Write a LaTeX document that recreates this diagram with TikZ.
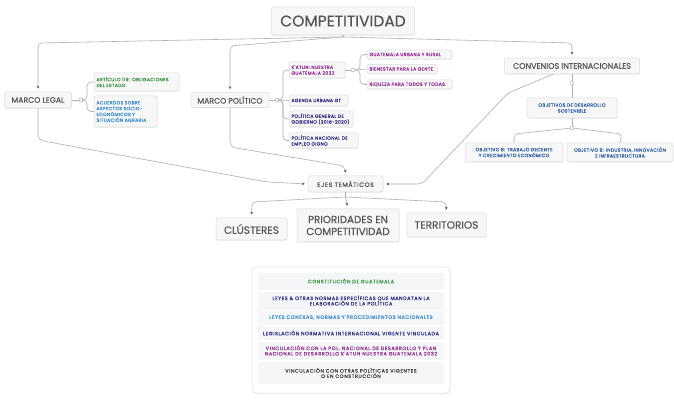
\documentclass[tikz,border=0pt]{standalone}
\usepackage{fontspec}
\setmainfont{Poppins}[FakeBold=0.4]
\newfontfamily\smallf{Poppins}[FakeBold=0.6, LetterSpace=7]
\newfontfamily\rowf{Poppins}[FakeBold=0.5, LetterSpace=12]
\newfontfamily\ejesf{Poppins}[FakeBold=0.4, LetterSpace=10]
\usetikzlibrary{arrows.meta,shadows}
\definecolor{txtgray}{RGB}{85,85,85}
\definecolor{lnk}{RGB}{175,175,175}
\definecolor{bfill}{RGB}{247,247,247}
\definecolor{bdraw}{RGB}{220,220,220}
\definecolor{cgreen}{RGB}{60,150,70}
\definecolor{cblue}{RGB}{60,140,205}
\definecolor{cpurple}{RGB}{150,45,150}
\definecolor{cnavy}{RGB}{45,45,130}
\definecolor{cods}{RGB}{45,95,165}
\definecolor{rowfill}{RGB}{245,246,247}
\tikzset{
 box/.style={draw=bdraw, fill=bfill, rounded corners=2pt, line width=0.5pt,
   drop shadow={shadow xshift=0.4pt, shadow yshift=-0.8pt, opacity=0.12}},
 mainbox/.style={box, text=txtgray, inner sep=0pt, align=center},
 smallbox/.style={box, inner xsep=2.5pt, inner ysep=0pt, align=left,
   font=\smallf\fontsize{4.6}{5.8}\selectfont},
 cbox/.style={box, inner sep=0pt, align=center, font=\smallf\fontsize{4.6}{5.8}\selectfont},
 conn/.style={draw=lnk, line width=0.6pt},
 arr/.style={-{Stealth[length=3pt,width=2.8pt,color=black!65]}, shorten >=3pt},
 dotc/.style={circle, draw=lnk, fill=white, inner sep=0pt, minimum size=4pt, line width=0.5pt},
 row/.style={fill=rowfill, draw=none, minimum width=186pt, inner sep=0pt, align=center,
   font=\rowf\fontsize{4.9}{5.4}\selectfont},
}
\begin{document}
\begin{tikzpicture}[x=1pt,y=-1pt]
\useasboundingbox (0,0) rectangle (674,403);
\fill[white] (0,0) rectangle (674,403);

% main nodes
\node[mainbox, minimum width=143pt, minimum height=28pt, font=\fontsize{15.5}{16}\selectfont] (comp) at (343,21) {COMPETITIVIDAD};
\node[mainbox, minimum width=67pt, minimum height=16pt, font=\fontsize{7.8}{8}\selectfont] (legal) at (38,100) {MARCO LEGAL};
\node[mainbox, minimum width=78pt, minimum height=15pt, font=\fontsize{7.8}{8}\selectfont] (poli) at (230,100) {MARCO POLÍTICO};
\node[mainbox, minimum width=135pt, minimum height=16pt, font=\fontsize{8}{8}\selectfont] (conv) at (572,66) {CONVENIOS INTERNACIONALES};
\node[mainbox, minimum width=75pt, minimum height=16pt, font=\ejesf\fontsize{6.2}{7}\selectfont] (ejes) at (345.5,184) {EJES TEMÁTICOS};
\node[mainbox, minimum width=71pt, minimum height=22pt, font=\fontsize{10.5}{11}\selectfont] (clus) at (251.5,229) {CLÚSTERES};
\node[mainbox, minimum width=102pt, minimum height=33pt, font=\fontsize{10.3}{12}\selectfont] (prio) at (348,225.5) {PRIORIDADES EN\\COMPETITIVIDAD};
\node[mainbox, minimum width=79pt, minimum height=24pt, font=\fontsize{10.5}{11}\selectfont] (terr) at (446.5,225) {TERRITORIOS};

% marco legal children
\node[smallbox, text=cgreen, text width=80pt, minimum height=18pt] (art) at (136.5,82) {ARTÍCULO 119: OBLIGACIONES\\DEL ESTADO};
\node[smallbox, text=cblue, text width=58pt, minimum height=31pt] (acu) at (125.5,111.5) {ACUERDOS SOBRE\\ASPECTOS SOCIO-\\ECONÓMICOS Y\\SITUACIÓN AGRARIA};

% marco politico children
\node[smallbox, text=cpurple, text width=51pt, minimum height=16pt] (katun) at (317,70) {K'ATUN: NUESTRA\\GUATEMALA 2032};
\node[smallbox, text=cnavy, text width=54pt, minimum height=11pt] (agenda) at (318.5,100.5) {AGENDA URBANA GT};
\node[smallbox, text=cnavy, text width=59pt, minimum height=16pt] (polgen) at (321,119) {POLÍTICA GENERAL DE\\GOBIERNO (2016-2020)};
\node[smallbox, text=cnavy, text width=64pt, minimum height=15pt] (polnac) at (323.5,140.5) {POLÍTICA NACIONAL DE\\EMPLEO DIGNO};

% katun children
\node[smallbox, text=cpurple, text width=80pt, minimum height=9pt] (gur) at (409.5,54.5) {GUATEMALA URBANA Y RURAL};
\node[smallbox, text=cpurple, text width=65pt, minimum height=9pt] (bien) at (402,69) {BIENESTAR PARA LA GENTE};
\node[smallbox, text=cpurple, text width=80pt, minimum height=9pt] (riq) at (409.5,84.5) {RIQUEZA PARA TODOS Y TODAS};

% convenios children
\node[cbox, text=cods, minimum width=90pt, minimum height=20pt] (ods) at (572,108) {OBJETIVOS DE DESARROLLO\\SOSTENIBLE};
\node[cbox, text=cods, minimum width=98pt, minimum height=19pt] (ob8) at (514,152.5) {OBJETIVO 8: TRABAJO DECENTE\\Y CRECIMIENTO ECONÓMICO};
\node[cbox, text=cods, minimum width=106pt, minimum height=19pt] (ob9) at (620,152.5) {OBJETIVO 9: INDUSTRIA, INNOVACIÓN\\E INFRAESTRUCTURA};

% branch dots
\node[dotc] (cL) at (81,100) {};
\node[dotc] (cP) at (277,100) {};
\node[dotc] (cK) at (353,70) {};
\node[dotc] (cC) at (572,83) {};
\node[dotc] (cO) at (572,128) {};

% top connectors
\coordinate (top) at (343,37);
\draw[conn] (comp.south) -- (top);
\draw[conn, arr, rounded corners=4pt] (top) -- (38,43) -- (legal.north);
\draw[conn, arr, rounded corners=4pt] (top) -- (230,46) -- (poli.north);
\draw[conn, arr, rounded corners=4pt] (top) -- (572,43) -- (conv.north);

% legal branches
\draw[conn] (legal.east) -- (cL);
\draw[conn, rounded corners=4pt] (cL.east) -- (87,100) |- (art.west);
\draw[conn, rounded corners=4pt] (cL.east) -- (87,100) |- (acu.west);

% politico branches
\draw[conn] (poli.east) -- (cP);
\draw[conn, rounded corners=4pt] (cP.east) -- (283,100) |- (katun.west);
\draw[conn] (cP.east) -- (agenda.west);
\draw[conn, rounded corners=4pt] (cP.east) -- (283,100) |- (polgen.west);
\draw[conn, rounded corners=4pt] (cP.east) -- (283,100) |- (polnac.west);

% katun branches
\draw[conn] (katun.east) -- (cK);
\draw[conn, rounded corners=4pt] (cK.east) -- (360,70) |- (gur.west);
\draw[conn] (cK.east) -- (bien.west);
\draw[conn, rounded corners=4pt] (cK.east) -- (360,70) |- (riq.west);

% convenios branches
\draw[conn] (conv.south) -- (cC);
\draw[conn] (cC) -- (ods.north);
\draw[conn] (ods.south) -- (cO);
\draw[conn, rounded corners=4pt] (cO) -- (514,134) -- (ob8.north);
\draw[conn, rounded corners=4pt] (cO) -- (622,134) -- (ob9.north);

% to ejes
\draw[conn, arr, rounded corners=5pt] (legal.south) -- (38,140) -- (267,182) -- (ejes.west);
\draw[conn, arr, rounded corners=5pt] (poli.south) -- (230,147) -- (345,166) -- (ejes.north);
\draw[conn, arr, rounded corners=5pt] ([xshift=-19pt]conv.south) -- (508,93) -- (422,184) -- (ejes.east);

% from ejes
\coordinate (eb) at (345.5,197);
\draw[conn] (ejes.south) -- (eb);
\draw[conn, arr] (eb) -- (prio.north);
\draw[conn, arr, rounded corners=4pt] (eb) -- (252,202) -- (clus.north);
\draw[conn, arr, rounded corners=4pt] (eb) -- (446,202) -- (terr.north);

% bottom panel
\node[box, draw=bdraw, fill=white, rounded corners=4pt, minimum width=198pt, minimum height=126pt, inner sep=0pt] (panel) at (351,330) {};
\node[row, minimum height=17pt, text=cgreen] (r1) at (351,281) {CONSTITUCIÓN DE GUATEMALA};
\node[row, minimum height=18pt, text=cnavy] (r2) at (351,300.5) {LEYES \& OTRAS NORMAS ESPECÍFICAS QUE MANDATAN LA\\ELABORACIÓN DE LA POLÍTICA};
\node[row, minimum height=14pt, text=cblue] (r3) at (351,317.5) {LEYES CONEXAS, NORMAS Y PROCEDIMIENTOS NACIONALES};
\node[row, minimum height=14pt, text=cnavy] (r4) at (351,333) {LEGISLACIÓN NORMATIVA INTERNACIONAL VIGENTE VINCULADA};
\node[row, minimum height=18pt, text=cpurple] (r5) at (351,350.5) {VINCULACIÓN CON LA POL. NACIONAL DE DESARROLLO Y PLAN\\NACIONAL DE DESARROLLO K'ATUN NUESTRA GUATEMALA 2032};
\node[row, minimum height=22pt, text=black!75] (r6) at (351,373) {VINCULACIÓN CON OTRAS POLÍTICAS VIGENTES\\O EN CONSTRUCCIÓN};
\end{tikzpicture}
\end{document}
